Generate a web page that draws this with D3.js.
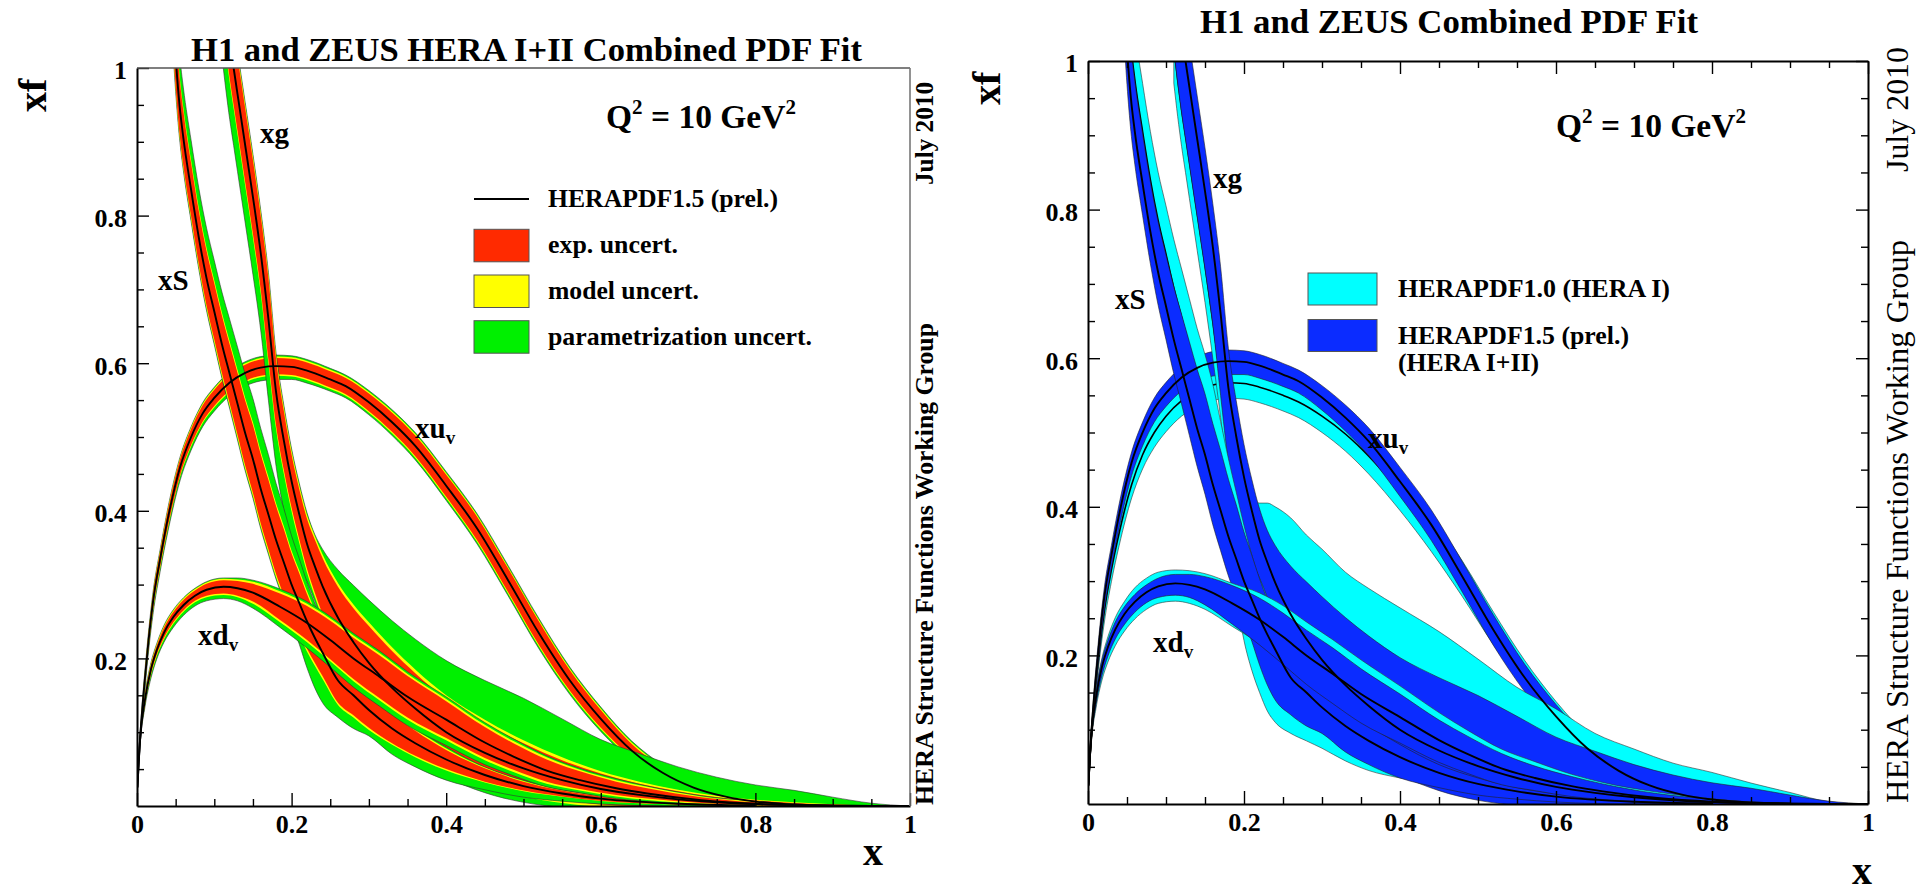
<!DOCTYPE html>
<html><head><meta charset="utf-8">
<script src="https://cdnjs.cloudflare.com/ajax/libs/d3/7.8.5/d3.min.js"></script>
<style>body{margin:0;background:#fff}svg{display:block}text{font-family:"Liberation Serif","Times New Roman",serif;fill:#000}</style>
</head><body><svg id="c" width="1926" height="896"></svg>
<script>
// ---------------- DATA ----------------
const xMajor = [0,0.2,0.4,0.6,0.8,1];
const xTickLabels = ['0','0.2','0.4','0.6','0.8','1'];
const yMajor = [0.2,0.4,0.6,0.8,1];
const yTickLabels = ['0.2','0.4','0.6','0.8','1'];
const minorTicks = [0.05,0.1,0.15,0.25,0.3,0.35,0.45,0.5,0.55,0.65,0.7,0.75,0.85,0.9,0.95];

// xu_v
const uvX = [0.0005,0.003,0.006,0.01,0.015,0.021,0.03,0.04,0.056,0.07,0.085,0.1,0.12,0.14,0.16,0.18,0.2,0.22,0.25,0.27,0.3,0.33,0.36,0.4,0.44,0.48,0.52,0.56,0.6,0.64,0.68,0.72,0.76,0.8,0.85,0.9,0.95];
const uvC = [0.025,0.075,0.12,0.17,0.225,0.279,0.335,0.39,0.46,0.5,0.532,0.553,0.574,0.587,0.594,0.596,0.595,0.59,0.578,0.569,0.547,0.52,0.488,0.434,0.376,0.306,0.234,0.17,0.118,0.075,0.045,0.025,0.013,0.006,0.002,0.0005,0.0001];
const uvExp = [0.002,0.005,0.007,0.008,0.009,0.01,0.01,0.011,0.011,0.011,0.011,0.011,0.011,0.011,0.011,0.011,0.011,0.011,0.011,0.011,0.012,0.013,0.014,0.015,0.016,0.016,0.016,0.014,0.012,0.009,0.007,0.005,0.003,0.002,0.001,0.0005,0.0002];
const uvMod = [0.0005,0.001,0.0015,0.002,0.002,0.002,0.002,0.002,0.002,0.002,0.002,0.002,0.002,0.002,0.002,0.002,0.002,0.002,0.002,0.002,0.002,0.002,0.002,0.002,0.002,0.002,0.002,0.002,0.002,0.002,0.002,0.0015,0.001,0.001,0.0005,0.0002,0.0001];
const uvParUp = [0.0005,0.001,0.001,0.001,0.001,0.001,0.001,0.001,0.001,0.001,0.0015,0.0015,0.0015,0.002,0.002,0.002,0.002,0.002,0.002,0.002,0.002,0.002,0.002,0.002,0.002,0.002,0.002,0.002,0.002,0.002,0.0015,0.001,0.001,0.0005,0.0003,0.0001,0];
const uvParDn = [0.001,0.002,0.003,0.004,0.004,0.005,0.005,0.005,0.005,0.005,0.005,0.005,0.005,0.005,0.005,0.005,0.004,0.004,0.003,0.003,0.003,0.003,0.003,0.003,0.003,0.003,0.003,0.003,0.003,0.003,0.002,0.002,0.001,0.001,0.0005,0.0002,0.0001];
const uv10C = [0.024,0.07,0.112,0.16,0.21,0.26,0.315,0.365,0.43,0.47,0.5,0.522,0.543,0.556,0.564,0.567,0.566,0.561,0.55,0.541,0.522,0.498,0.468,0.42,0.365,0.303,0.236,0.174,0.122,0.08,0.048,0.027,0.014,0.006,0.002,0.0005,0.0001];
const uv10Err = [0.002,0.006,0.009,0.011,0.013,0.015,0.016,0.017,0.018,0.019,0.02,0.021,0.021,0.021,0.021,0.021,0.021,0.021,0.021,0.021,0.022,0.023,0.024,0.025,0.025,0.024,0.022,0.019,0.016,0.012,0.009,0.006,0.004,0.002,0.001,0.0005,0.0002];

// xd_v
const dvX = [0.0005,0.004,0.0103,0.018,0.0255,0.035,0.047,0.06,0.075,0.09,0.112,0.13,0.15,0.185,0.22,0.25,0.28,0.314,0.35,0.4,0.45,0.487,0.53,0.573,0.62,0.66,0.73,0.8,0.85,0.9];
const dvC = [0.025,0.09,0.144,0.185,0.211,0.235,0.256,0.272,0.285,0.293,0.297,0.295,0.289,0.27,0.248,0.225,0.2,0.175,0.148,0.117,0.086,0.067,0.048,0.035,0.024,0.017,0.008,0.003,0.001,0.0003];
const dvExp = [0.002,0.004,0.005,0.006,0.006,0.007,0.007,0.007,0.007,0.008,0.009,0.01,0.012,0.018,0.023,0.026,0.028,0.029,0.028,0.025,0.021,0.018,0.015,0.012,0.009,0.007,0.004,0.002,0.001,0.0005];
const dvMod = [0.0005,0.001,0.002,0.002,0.002,0.002,0.002,0.002,0.002,0.002,0.002,0.002,0.003,0.003,0.003,0.003,0.003,0.003,0.003,0.003,0.003,0.003,0.003,0.002,0.002,0.002,0.001,0.001,0.0005,0.0002];
const dvParUp = [0.0005,0.001,0.001,0.001,0.001,0.001,0.001,0.001,0.001,0.001,0.001,0.002,0.002,0.003,0.003,0.003,0.003,0.003,0.003,0.003,0.003,0.003,0.002,0.002,0.002,0.001,0.001,0.0005,0.0002,0.0001];
const dvParDn = [0.001,0.002,0.003,0.004,0.004,0.004,0.005,0.005,0.005,0.005,0.005,0.005,0.006,0.007,0.008,0.008,0.008,0.008,0.008,0.007,0.006,0.005,0.004,0.003,0.003,0.002,0.001,0.001,0.0005,0.0002];
const dv10C = [0.025,0.088,0.141,0.182,0.208,0.232,0.253,0.27,0.283,0.291,0.294,0.292,0.286,0.268,0.25,0.23,0.207,0.184,0.159,0.128,0.097,0.077,0.056,0.042,0.029,0.021,0.011,0.004,0.0015,0.0004];
const dv10Err = [0.003,0.008,0.012,0.015,0.017,0.019,0.02,0.021,0.021,0.021,0.021,0.022,0.024,0.029,0.034,0.037,0.038,0.037,0.035,0.031,0.026,0.022,0.018,0.015,0.011,0.008,0.005,0.003,0.001,0.0005];

// xS
const sX = [0.04,0.045,0.05,0.055,0.06,0.07,0.08,0.09,0.1,0.11,0.12,0.13,0.14,0.15,0.16,0.17,0.18,0.19,0.2,0.21,0.22,0.23,0.24,0.26,0.28,0.3,0.33,0.36,0.4,0.45,0.5,0.55,0.6,0.7,0.8];
const sC = [1.2,1.1,1.015,0.95,0.905,0.835,0.77,0.715,0.67,0.625,0.585,0.545,0.505,0.47,0.43,0.395,0.36,0.33,0.3,0.275,0.25,0.228,0.208,0.17,0.15,0.13,0.105,0.085,0.063,0.042,0.027,0.017,0.01,0.003,0.0006];
const sExp = [0.04,0.04,0.04,0.038,0.037,0.036,0.036,0.037,0.038,0.039,0.04,0.042,0.044,0.046,0.047,0.047,0.046,0.045,0.042,0.04,0.037,0.034,0.032,0.03,0.027,0.024,0.02,0.017,0.013,0.009,0.006,0.004,0.003,0.001,0.0003];
const sMod = [0.004,0.004,0.004,0.004,0.004,0.004,0.004,0.004,0.004,0.004,0.004,0.004,0.004,0.004,0.004,0.004,0.004,0.004,0.004,0.004,0.004,0.004,0.004,0.003,0.003,0.003,0.002,0.002,0.002,0.001,0.001,0.0005,0.0003,0.0001,0];
const sParUp = [0.03,0.03,0.028,0.027,0.027,0.027,0.027,0.027,0.027,0.028,0.03,0.031,0.032,0.032,0.031,0.03,0.027,0.024,0.02,0.016,0.012,0.009,0.007,0.005,0.004,0.003,0.003,0.002,0.002,0.001,0.001,0.0005,0.0003,0.0001,0];
const sParDn = [0.003,0.003,0.003,0.003,0.003,0.003,0.003,0.003,0.003,0.003,0.003,0.003,0.003,0.003,0.003,0.003,0.003,0.003,0.006,0.012,0.022,0.03,0.032,0.017,0.015,0.008,0.013,0.013,0.013,0.01,0.008,0.006,0.004,0.002,0.0003];
const s10C = [1.27,1.17,1.085,1.02,0.975,0.905,0.84,0.785,0.74,0.695,0.655,0.615,0.575,0.54,0.5,0.455,0.41,0.37,0.33,0.295,0.265,0.237,0.213,0.175,0.155,0.135,0.108,0.087,0.065,0.044,0.028,0.018,0.011,0.0035,0.0006];
const s10Dn = [0.065,0.065,0.065,0.065,0.065,0.065,0.065,0.065,0.065,0.065,0.065,0.065,0.065,0.065,0.065,0.067,0.075,0.09,0.11,0.115,0.115,0.112,0.103,0.08,0.07,0.06,0.05,0.042,0.03,0.019,0.012,0.008,0.005,0.002,0.0003];
const s10Up = [0.065,0.065,0.065,0.065,0.065,0.065,0.065,0.065,0.065,0.065,0.065,0.065,0.065,0.065,0.065,0.06,0.055,0.05,0.045,0.04,0.035,0.03,0.027,0.022,0.018,0.015,0.012,0.01,0.008,0.006,0.004,0.003,0.002,0.001,0.0003];

// xg
const gX = [0.11,0.115,0.12,0.125,0.13,0.14,0.15,0.16,0.17,0.18,0.19,0.2,0.21,0.22,0.23,0.24,0.26,0.28,0.3,0.33,0.36,0.4,0.45,0.5,0.55,0.6,0.65,0.7,0.75,0.8,0.85,0.9,0.95,1.0];
const gC = [1.12,1.075,1.035,1.0,0.965,0.895,0.825,0.75,0.66,0.56,0.495,0.44,0.395,0.355,0.325,0.298,0.255,0.222,0.194,0.16,0.132,0.1,0.072,0.051,0.035,0.023,0.015,0.009,0.005,0.0025,0.0012,0.0005,0.0001,0];
const gExp = [0.05,0.05,0.05,0.05,0.05,0.05,0.05,0.05,0.055,0.045,0.04,0.036,0.034,0.034,0.036,0.038,0.042,0.046,0.05,0.05,0.048,0.045,0.04,0.034,0.027,0.021,0.015,0.011,0.007,0.005,0.003,0.0015,0.0005,0];
const gMod = [0.005,0.005,0.005,0.005,0.005,0.005,0.005,0.005,0.005,0.005,0.005,0.005,0.005,0.005,0.005,0.005,0.005,0.005,0.005,0.005,0.005,0.005,0.005,0.004,0.004,0.003,0.003,0.002,0.002,0.001,0.001,0.0005,0.0002,0];
const gParUp = [0.003,0.003,0.003,0.003,0.003,0.003,0.003,0.003,0.003,0.003,0.003,0.003,0.003,0.003,0.002,0.007,0.018,0.026,0.03,0.036,0.041,0.047,0.053,0.057,0.052,0.043,0.038,0.031,0.025,0.02,0.016,0.0095,0.003,0];
const gParDn = [0.05,0.05,0.05,0.05,0.05,0.05,0.05,0.05,0.05,0.05,0.05,0.045,0.03,0.012,0.006,0.006,0.008,0.01,0.01,0.01,0.01,0.01,0.009,0.008,0.006,0.005,0.003,0.002,0.001,0.001,0.0005,0.0002,0.0001,0];
const g10C = [1.02,0.975,0.935,0.9,0.865,0.795,0.725,0.65,0.57,0.48,0.42,0.38,0.35,0.33,0.31,0.29,0.255,0.222,0.194,0.16,0.132,0.1,0.072,0.051,0.035,0.023,0.015,0.009,0.005,0.0025,0.0012,0.0005,0.0001,0];
const g10Up = [0.05,0.05,0.05,0.05,0.05,0.05,0.05,0.05,0.05,0.05,0.05,0.05,0.06,0.075,0.095,0.11,0.13,0.14,0.149,0.152,0.158,0.164,0.16,0.144,0.122,0.105,0.08,0.065,0.05,0.04,0.027,0.015,0.003,0];
const g10Dn = [0.05,0.05,0.05,0.05,0.05,0.05,0.05,0.05,0.05,0.05,0.05,0.05,0.05,0.045,0.04,0.04,0.05,0.06,0.065,0.065,0.062,0.058,0.05,0.042,0.033,0.025,0.018,0.013,0.008,0.005,0.003,0.001,0.0003,0];

// ---------------- DRAWING ----------------
const COL = {red:'#ff2a00', yellow:'#ffff00', green:'#00f000', cyan:'#00ffff', blue:'#0b2cff'};
const svg = d3.select('#c');
const defs = svg.append('defs');

function T(x,y,s,o){
  const t = svg.append('text').attr('x',x).attr('y',y).text(s)
    .attr('font-size',o.fs).attr('font-weight',o.fw||'bold').attr('text-anchor',o.a||'start');
  if(o.len) t.attr('textLength',o.len).attr('lengthAdjust','spacingAndGlyphs');
  if(o.rot) t.attr('transform',`rotate(${o.rot},${x},${y})`);
  return t;
}
const V = (a,i)=> (a && a[i]!==undefined) ? a[i] : 0;

function makePanel(id, px0, px1, py0, py1, full){
  const xs = d3.scaleLinear().domain([0,1]).range([px0,px1]);
  const ys = d3.scaleLinear().domain([0,1]).range([py0,py1]);
  defs.append('clipPath').attr('id',id).append('rect')
    .attr('x',px0).attr('y',py1).attr('width',px1-px0).attr('height',py0-py1);
  const g = svg.append('g');
  const plot = g.append('g').attr('clip-path',`url(#${id})`);
  const area = d3.area().x(d=>xs(d.x)).y0(d=>ys(d.lo)).y1(d=>ys(d.hi)).curve(d3.curveMonotoneX);
  const line = d3.line().x(d=>xs(d.x)).y(d=>ys(d.y)).curve(d3.curveMonotoneX);
  function band(X, lo, hi, fill, stroke){
    const pts = X.map((x,i)=>({x, lo:lo[i], hi:hi[i]}));
    plot.append('path').datum(pts).attr('d',area).attr('fill',fill)
      .attr('stroke',stroke||'#333').attr('stroke-width',0.6);
  }
  function central(X, C, w){
    plot.append('path').datum(X.map((x,i)=>({x,y:C[i]}))).attr('d',line)
      .attr('fill','none').attr('stroke','#000').attr('stroke-width',w||1.9);
  }
  function axes(){
    const styleTicks = (sel)=>{ sel.selectAll('.tick line').attr('stroke','#000').attr('stroke-width',1.4);
      sel.select('.domain').attr('stroke','#000').attr('stroke-width',2); };
    const bx = g.append('g').attr('transform',`translate(0,${py0})`)
      .call(d3.axisBottom(xs).tickValues(xMajor).tickFormat((d,i)=>xTickLabels[i]).tickSize(-13).tickSizeOuter(0).tickPadding(9));
    styleTicks(bx);
    bx.selectAll('text').attr('font-size',26).attr('font-weight','bold')
      .attr('font-family','"Liberation Serif","Times New Roman",serif');
    const bm = g.append('g').attr('transform',`translate(0,${py0})`)
      .call(d3.axisBottom(xs).tickValues(minorTicks).tickFormat(()=> '').tickSize(-7).tickSizeOuter(0));
    styleTicks(bm); bm.select('.domain').remove();
    const ly = g.append('g').attr('transform',`translate(${px0},0)`)
      .call(d3.axisLeft(ys).tickValues(yMajor).tickFormat((d,i)=>yTickLabels[i]).tickSize(-12).tickSizeOuter(0).tickPadding(10));
    styleTicks(ly);
    ly.selectAll('text').attr('font-size',26).attr('font-weight','bold').attr('dy','0.42em')
      .attr('font-family','"Liberation Serif","Times New Roman",serif');
    const lm = g.append('g').attr('transform',`translate(${px0},0)`)
      .call(d3.axisLeft(ys).tickValues(minorTicks).tickFormat(()=> '').tickSize(-7).tickSizeOuter(0));
    styleTicks(lm); lm.select('.domain').remove();
    if(full){
      const tx = g.append('g').attr('transform',`translate(0,${py1})`)
        .call(d3.axisTop(xs).tickValues(xMajor).tickFormat(()=> '').tickSize(-13).tickSizeOuter(0));
      styleTicks(tx);
      const tm = g.append('g').attr('transform',`translate(0,${py1})`)
        .call(d3.axisTop(xs).tickValues(minorTicks).tickFormat(()=> '').tickSize(-7).tickSizeOuter(0));
      styleTicks(tm); tm.select('.domain').remove();
      const ry = g.append('g').attr('transform',`translate(${px1},0)`)
        .call(d3.axisRight(ys).tickValues(yMajor).tickFormat(()=> '').tickSize(-12).tickSizeOuter(0));
      styleTicks(ry);
      const rm = g.append('g').attr('transform',`translate(${px1},0)`)
        .call(d3.axisRight(ys).tickValues(minorTicks).tickFormat(()=> '').tickSize(-7).tickSizeOuter(0));
      styleTicks(rm); rm.select('.domain').remove();
    } else {
      g.append('line').attr('x1',px0).attr('x2',px1).attr('y1',py1).attr('y2',py1).attr('stroke','#555').attr('stroke-width',1.6);
      g.append('line').attr('x1',px1).attr('x2',px1).attr('y1',py1).attr('y2',py0).attr('stroke','#777').attr('stroke-width',1.6);
    }
  }
  return {xs, ys, band, central, axes};
}

// layered HERAPDF1.5 band helper
function layers(P, X, C, E, M, PU, PD, mode){
  const expLo = X.map((_,i)=>C[i]-V(E,i)), expHi = X.map((_,i)=>C[i]+V(E,i));
  const modLo = X.map((_,i)=>expLo[i]-V(M,i)), modHi = X.map((_,i)=>expHi[i]+V(M,i));
  const totLo = X.map((_,i)=>modLo[i]-V(PD,i)), totHi = X.map((_,i)=>modHi[i]+V(PU,i));
  if(mode==='total'){ P.band(X, totLo, totHi, COL.blue, '#222'); return; }
  P.band(X, totLo, totHi, COL.green, '#333');
  P.band(X, modLo, modHi, COL.yellow, 'none');
  P.band(X, expLo, expHi, COL.red, 'none');
}

// ---------- LEFT PANEL ----------
const LP = makePanel('clipL', 137, 910, 806, 68, false);
layers(LP, uvX, uvC, uvExp, uvMod, uvParUp, uvParDn);
layers(LP, gX, gC, gExp, gMod, gParUp, gParDn);
layers(LP, sX, sC, sExp, sMod, sParUp, sParDn);
layers(LP, dvX, dvC, dvExp, dvMod, dvParUp, dvParDn);
LP.central(uvX, uvC); LP.central(gX, gC); LP.central(sX, sC); LP.central(dvX, dvC);
LP.axes();

// ---------- RIGHT PANEL ----------
const RP = makePanel('clipR', 1088, 1868, 804, 61, true);
function cyanBand(X, C, dn, up){
  RP.band(X, X.map((_,i)=>C[i]-dn[i]), X.map((_,i)=>C[i]+up[i]), COL.cyan, '#333');
  RP.central(X, C, 1.6);
}
cyanBand(uvX, uv10C, uv10Err, uv10Err);
layers(RP, uvX, uvC, uvExp, uvMod, uvParUp, uvParDn, 'total');
cyanBand(gX, g10C, g10Dn, g10Up);
layers(RP, gX, gC, gExp, gMod, gParUp, gParDn, 'total');
cyanBand(sX, s10C, s10Dn, s10Up);
layers(RP, sX, sC, sExp, sMod, sParUp, sParDn, 'total');
cyanBand(dvX, dv10C, dv10Err, dv10Err);
layers(RP, dvX, dvC, dvExp, dvMod, dvParUp, dvParDn, 'total');
RP.central(uvX, uvC); RP.central(gX, gC); RP.central(sX, sC); RP.central(dvX, dvC);
RP.axes();

// ---------- TEXTS ----------
T(191, 61, 'H1 and ZEUS HERA I+II Combined PDF Fit', {fs:34, len:671});
T(1200, 33, 'H1 and ZEUS Combined PDF Fit', {fs:34, len:498});
T(46, 112, 'xf', {fs:40, rot:-90});
T(1000, 105, 'xf', {fs:40, rot:-90});
T(873, 865, 'x', {fs:40, a:'middle'});
T(1862, 884, 'x', {fs:40, a:'middle'});
T(933, 805, 'HERA Structure Functions Working Group', {fs:25.5, rot:-90, len:482});
T(933, 185, 'July 2010', {fs:25.5, rot:-90, len:103});
T(1908, 803, 'HERA Structure Functions Working Group', {fs:31.5, fw:'normal', rot:-90, len:563});
T(1908, 172, 'July 2010', {fs:31.5, fw:'normal', rot:-90, len:125});

function Q2(x,y){
  const t = T(x,y,'',{fs:33.5});
  t.append('tspan').text('Q');
  t.append('tspan').text('2').attr('font-size',21).attr('dy',-14);
  t.append('tspan').text(' = 10 GeV').attr('dy',14);
  t.append('tspan').text('2').attr('font-size',21).attr('dy',-14);
}
Q2(606,128); Q2(1556,137);

function lab(x,y,main,sub){
  const t = T(x,y,main,{fs:29});
  if(sub) t.append('tspan').text(sub).attr('font-size',19).attr('dy',6);
}
lab(260,143,'xg'); lab(158,290,'xS'); lab(415,438,'xu','v'); lab(198,645,'xd','v');
lab(1213,188,'xg'); lab(1115,309,'xS'); lab(1368,448,'xu','v'); lab(1153,652,'xd','v');

// legend left
svg.append('line').attr('x1',474).attr('x2',529).attr('y1',199).attr('y2',199).attr('stroke','#000').attr('stroke-width',2);
T(548, 207, 'HERAPDF1.5 (prel.)', {fs:25.5, len:230});
const legL = [{c:COL.red, t:'exp. uncert.', y:229.3, len:130},{c:COL.yellow, t:'model uncert.', y:275, len:151},{c:COL.green, t:'parametrization uncert.', y:320.7, len:264}];
legL.forEach(d=>{
  svg.append('rect').attr('x',474).attr('y',d.y).attr('width',55).attr('height',32.5).attr('fill',d.c).attr('stroke','#555').attr('stroke-width',1);
  T(548, d.y+16+8, d.t, {fs:25.5, len:d.len});
});
// legend right
svg.append('rect').attr('x',1308).attr('y',273).attr('width',69).attr('height',32).attr('fill',COL.cyan).attr('stroke','#555').attr('stroke-width',1);
svg.append('rect').attr('x',1308).attr('y',319.5).attr('width',69).attr('height',32).attr('fill',COL.blue).attr('stroke','#555').attr('stroke-width',1);
T(1398, 297, 'HERAPDF1.0 (HERA I)', {fs:25.5, len:272});
T(1398, 344, 'HERAPDF1.5 (prel.)', {fs:25.5, len:231});
T(1398, 371, '(HERA I+II)', {fs:25.5, len:141});
</script></body></html>
